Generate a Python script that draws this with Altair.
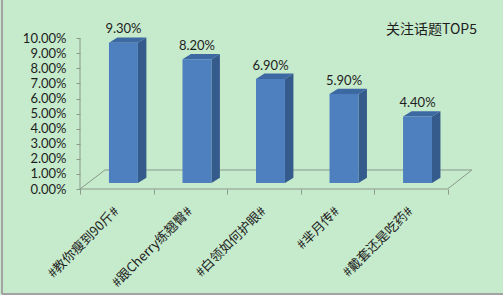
import altair as alt
import pandas as pd

# ---- data ----
categories = ["#教你瘦到90斤#", "#跟Cherry练翘臀#", "#白领如何护眼#", "#芈月传#", "#戴套还是吃药#"]
values = [0.093, 0.082, 0.069, 0.059, 0.044]
y_ticks = [0.0, 0.01, 0.02, 0.03, 0.04, 0.05, 0.06, 0.07, 0.08, 0.09, 0.10]
title_text = "关注话题TOP5"

# ---- 3D styling constants (in scale units) ----
FRONT_L, FRONT_R = 0.394, 0.788     # front face within a category slot
DEPTH_X, DEPTH_Y = 0.115, 0.0035    # bar depth offset
BASE_Y = 0.004                      # bars stand slightly behind the floor front edge
FLOOR_BACK_Y, FLOOR_DX, FLOOR_DX_R = 0.0126, 0.34, 0.33

front_rows, side_rows, top_rows, lab_rows, cat_rows = [], [], [], [], []
for i, (c, v) in enumerate(zip(categories, values)):
    front_rows.append(dict(cat=c, x=i + FRONT_L, x2=i + FRONT_R, y=BASE_Y, y2=v + BASE_Y))
    side_rows += [
        dict(cat=c, x=i + FRONT_R, y=v + BASE_Y, y2=BASE_Y),
        dict(cat=c, x=i + FRONT_R + DEPTH_X, y=v + BASE_Y + DEPTH_Y, y2=BASE_Y + DEPTH_Y),
    ]
    top_rows += [
        dict(cat=c, y=v + BASE_Y, x=i + FRONT_L, x2=i + FRONT_R),
        dict(cat=c, y=v + BASE_Y + DEPTH_Y, x=i + FRONT_L + DEPTH_X, x2=i + FRONT_R + DEPTH_X),
    ]
    lab_rows.append(dict(cat=c, x=i + (FRONT_L + FRONT_R) / 2, y=v + BASE_Y + DEPTH_Y, v=v))
    cat_rows.append(dict(cat=c, x=i + 0.50, y=-0.0135))

n = len(categories)
floor_rows = [
    dict(o=0, x=0, y=0), dict(o=1, x=n, y=0),
    dict(o=2, x=n + FLOOR_DX_R, y=FLOOR_BACK_Y), dict(o=3, x=FLOOR_DX, y=FLOOR_BACK_Y),
    dict(o=4, x=0, y=0),
]

AX = "#8a998c"
TXT = "#1e1e1e"

xs = alt.Scale(domain=[0, 5.4], nice=False, zero=False)
ys = alt.Scale(domain=[0, 0.12], nice=False, zero=False)
x_axis = alt.Axis(values=list(range(n + 1)), labels=False, domain=False, grid=False,
                  ticks=True, tickSize=5, tickColor=AX, title=None)
y_axis = alt.Axis(values=y_ticks, format=".2%", domain=False, grid=False,
                  tickSize=4, tickColor=AX, labelPadding=10, title=None,
                  labelFont="Lato", labelFontSize=13, labelColor=TXT)


def X(f="x"):
    return alt.X(f + ":Q", scale=xs, axis=x_axis, title=None)


def Y(f="y"):
    return alt.Y(f + ":Q", scale=ys, axis=y_axis, title=None)


yline = alt.Chart(pd.DataFrame({"x": [0], "y": [0], "y2": [y_ticks[-1]]})).mark_rule(
    color=AX, strokeWidth=1).encode(x=X(), y=Y(), y2="y2:Q")

floor = alt.Chart(pd.DataFrame(floor_rows)).mark_line(color=AX, strokeWidth=1).encode(
    x=X(), y=Y(), order="o:Q")

side = alt.Chart(pd.DataFrame(side_rows)).mark_area(orient="vertical", color="#345b8c").encode(
    x=X(), y=Y(), y2="y2:Q", detail="cat:N")

top = alt.Chart(pd.DataFrame(top_rows)).mark_area(orient="horizontal", color="#3d69a3").encode(
    y=Y(), x=X(), x2="x2:Q", detail="cat:N")

front = alt.Chart(pd.DataFrame(front_rows)).mark_rect(color="#4e80bf").encode(
    x=X(), x2="x2:Q", y=Y(), y2="y2:Q")

vlabels = alt.Chart(pd.DataFrame(lab_rows)).mark_text(
    font="Lato", fontSize=13, color=TXT, baseline="bottom", align="center", dy=-1).encode(
    x=X(), y=Y(), text=alt.Text("v:Q", format=".2%"))

clabels = alt.Chart(pd.DataFrame(cat_rows)).mark_text(
    font="Noto Sans CJK SC", fontSize=13, color=TXT, angle=315, align="right",
    baseline="middle").encode(x=X(), y=Y(), text="cat:N")

border = alt.Chart(pd.DataFrame({"k": [0]})).mark_rule(color="#a3a3a3", strokeWidth=2)
border_l = border.encode(x=alt.value(-78), y=alt.value(-8), y2=alt.value(286))
border_b = border.encode(x=alt.value(-78), x2=alt.value(430), y=alt.value(286))

chart = alt.layer(
    floor, yline, side, top, front, vlabels, clabels, border_l, border_b
).properties(
    width=397, height=181,
    padding={"left": 80, "top": 8, "right": 26, "bottom": 106},
    autosize=alt.AutoSizeParams(type="none"),
    background="#c6eacc",
    title=alt.TitleParams(title_text, anchor="end", frame="group", font="Noto Sans CJK SC",
                          fontSize=14, fontWeight="normal", color=TXT, dy=42),
).configure_view(stroke=None)

chart.save("out.html", embed_options={"renderer": "svg", "actions": False})
